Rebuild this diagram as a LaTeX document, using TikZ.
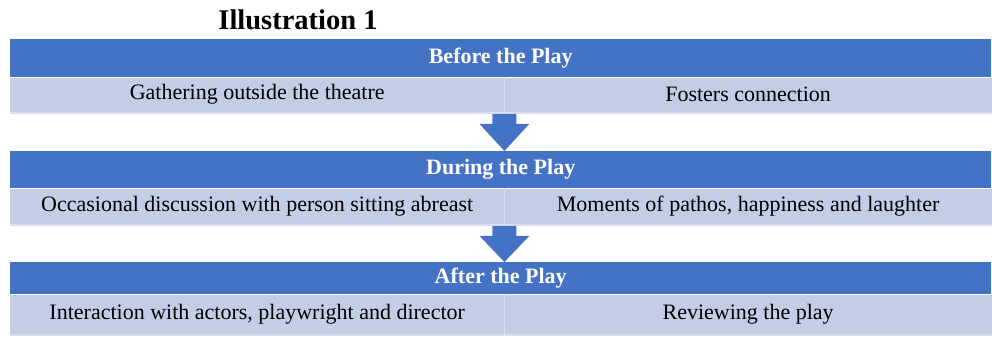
\documentclass[tikz,border=0pt]{standalone}
\usepackage{fontspec}
\setmainfont{Liberation Serif}
\usetikzlibrary{calc}

\definecolor{hdrblue}{RGB}{68,114,196}
\definecolor{rowblue}{RGB}{196,205,230}
\definecolor{rowedge}{RGB}{218,223,240}

\begin{document}
\begin{tikzpicture}[x=1pt, y=-1pt,
  hdr/.style={fill=hdrblue, text=white, font=\bfseries\fontsize{22}{22}\selectfont,
    minimum width=981pt, inner sep=0pt, anchor=north west},
  cell/.style={fill=rowblue, font=\fontsize{22}{22}\selectfont,
    inner sep=0pt, anchor=north west}]
  \useasboundingbox (0,0) rectangle (992,339);

  % title
  \node[font=\bfseries\fontsize{28.5}{28.5}\selectfont] (title) at (298,20) {Illustration 1};

  % before
  \node[hdr, minimum height=38pt] (hdrA) at (10,39) {Before the Play};
  \node[cell, minimum width=494pt, minimum height=34pt] (rowA1) at (hdrA.south west) {Gathering outside the theatre};
  \node[cell, minimum width=487pt, minimum height=34pt] (rowA2) at (rowA1.north east) {Fosters connection};

  % during
  \node[hdr, minimum height=37pt] (hdrB) at (10,151) {During the Play};
  \node[cell, minimum width=494pt, minimum height=35pt] (rowB1) at (hdrB.south west) {Occasional discussion with person sitting abreast};
  \node[cell, minimum width=487pt, minimum height=35pt] (rowB2) at (rowB1.north east) {Moments of pathos, happiness and laughter};

  % after
  \node[hdr, minimum height=32pt] (hdrC) at (10,262) {After the Play};
  \node[cell, minimum width=494pt, minimum height=39pt] (rowC1) at (hdrC.south west) {Interaction with actors, playwright and director};
  \node[cell, minimum width=487pt, minimum height=39pt] (rowC2) at (rowC1.north east) {Reviewing the play};

  % cell dividers and lower edges
  \foreach \r in {A,B,C} {
    \draw[rowedge, line width=1pt] (row\r1.north east) -- (row\r1.south east);
    \fill[rowedge] (row\r1.south west) rectangle ($(row\r2.south east)+(0,2)$);
  }

  % block arrows
  \fill[hdrblue] ($(rowA1.south east)+(-12,2)$) -- ($(rowA1.south east)+(12,2)$)
    -- ($(rowA1.south east)+(12,12)$) -- ($(rowA1.south east)+(25,12)$)
    -- (rowA1.south east |- hdrB.north) -- ($(rowA1.south east)+(-25,12)$)
    -- ($(rowA1.south east)+(-12,12)$) -- cycle;
  \fill[hdrblue] ($(rowB1.south east)+(-12,2)$) -- ($(rowB1.south east)+(12,2)$)
    -- ($(rowB1.south east)+(12,12)$) -- ($(rowB1.south east)+(25,12)$)
    -- (rowB1.south east |- hdrC.north) -- ($(rowB1.south east)+(-25,12)$)
    -- ($(rowB1.south east)+(-12,12)$) -- cycle;
\end{tikzpicture}
\end{document}
